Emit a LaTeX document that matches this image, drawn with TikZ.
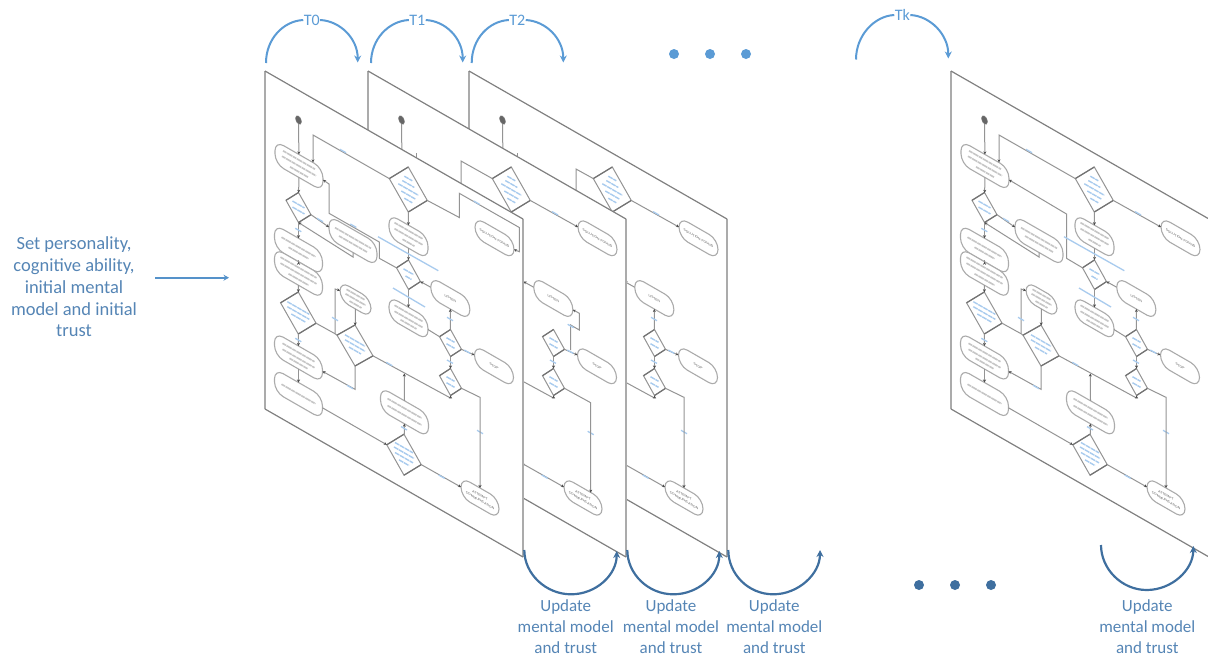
\documentclass[tikz,border=0pt]{standalone}
\usepackage{fontspec}
\setmainfont{Carlito}
\newfontfamily\tinyfont{Liberation Sans}
\usetikzlibrary{arrows.meta,shapes.misc,shapes.geometric}
\definecolor{topblue}{HTML}{5B9BD5}
\definecolor{botblue}{HTML}{3F6F9F}
\definecolor{capblue}{HTML}{5585B5}
\definecolor{edgeA}{HTML}{808080}
\definecolor{edgeB}{HTML}{ABABAB}
\definecolor{conn}{HTML}{949494}
\definecolor{inkG}{HTML}{C6C6C6}
\definecolor{inkB}{HTML}{A8CBEE}
\tikzset{
  iso/.style={yslant=-.575},
  pill/.style={iso,rectangle,rounded corners=10pt,draw=edgeB,line width=1.1pt,fill=white,inner sep=0,outer sep=0,text=black!65,align=center,font=\tinyfont\fontsize{3.3}{5.2}\selectfont},
  deci/.style={iso,diamond,draw=conn,line width=1pt,fill=white,inner sep=0,outer sep=0},
  cn/.style={draw=conn,line width=1pt},
  cna/.style={cn,-{Stealth[length=3pt,width=3pt,color=black!70]}},
  cns/.style={cn,{Stealth[length=3pt,width=3pt,color=black!70]}-},
  inkg/.style={draw=inkG,line width=1.6pt,dash pattern=on 4pt off .7pt on 6pt off .7pt},
  inkb/.style={draw=inkB,line width=1.3pt},
  inkbd/.style={draw=inkB,line width=1.4pt,dash pattern=on 5pt off .7pt},
  dedge/.style={draw=black!55,line width=1.2pt},
  toparc/.style={draw=topblue,line width=2pt},
  botarc/.style={draw=botblue,line width=2.2pt},
  arctip/.style={-{Stealth[length=7pt,width=7pt]}},
  captxt/.style={text=capblue,align=center,font=\fontsize{17}{21}\selectfont},
  leftcap/.style={text=capblue,align=center,font=\fontsize{18.5}{21.7}\selectfont},
  tlab/.style={text=topblue,font=\fontsize{16}{16}\selectfont,inner sep=.5pt,outer sep=0},
}
\newcommand{\tl}[5]{\draw[#5] ({#1-#3},{#2+#4-.575*#3}) -- ({#1+#3},{#2+#4+.575*#3});}
\newcommand{\lab}[2]{\draw[inkb] ({#1-3},{#2-1.7}) -- ({#1+3},{#2+1.7});}
\newcommand{\pillnode}[6]{\node[pill,minimum width=#4,minimum height=#5] (#1) at (#2,#3) {#6};}
\newcommand{\dianode}[5]{\node[deci,minimum width=#4,minimum height=#5] (#1) at (#2,#3) {};
  \draw[dedge] (#1.west) -- (#1.north) (#1.east) -- (#1.south);}
\newif\iffull
% #1 name prefix, #2 x offset, #3 variant: 0 front, 1 second, 2 third, 3 last
\newcommand{\flowpanel}[3]{%
\begin{scope}[shift={(#2,0)}]
  \fulltrue
  \ifnum#3=1\relax\fullfalse\fi
  \ifnum#3=2\relax\fullfalse\fi
  \fill[white] (265,71) -- (523,219) -- (523,557) -- (265,409) -- cycle;
  \draw[edgeB,line width=1.8pt] (265,71) -- (265,409) (523,219) -- (523,557);
  \draw[edgeA,line width=1.2pt] (265,71) -- (523,219) (265,409) -- (523,557);
  % nodes
  \node[iso,ellipse,fill=black!60,draw=black!50,minimum width=6pt,minimum height=8pt,inner sep=0,outer sep=0] (#1S) at (298.5,120) {};
  \pillnode{#1A}{299}{166}{48pt}{23pt}{}
  \pillnode{#1B}{298.5}{250}{48pt}{23.5pt}{}
  \pillnode{#1C}{298.5}{273.5}{48pt}{23.5pt}{}
  \pillnode{#1E}{298.5}{357.5}{48pt}{23pt}{}
  \pillnode{#1F}{298.5}{394}{48pt}{23pt}{}
  \pillnode{#1J}{355.5}{299.5}{31pt}{19pt}{}
  \pillnode{#1L}{450.3}{298.5}{39pt}{21pt}{LISTEN}
  \pillnode{#1T}{494}{366.3}{39pt}{20pt}{STOP}
  \pillnode{#1K}{494.5}{238.3}{39pt}{20pt}{SOLUTION FOUND}
  \pillnode{#1M}{480}{498}{38pt}{20pt}{ATTEMPT\\COMMUNICATION}
  \dianode{#1d1}{298.5}{207.5}{25pt}{30pt}
  \dianode{#1d2}{298.3}{313}{35.5pt}{42pt}
  \dianode{#1d3}{408.3}{189.5}{38pt}{45pt}
  \dianode{#1d4}{408.5}{274.7}{24pt}{29.5pt}
  \dianode{#1d5}{450.5}{343}{22pt}{27pt}
  \dianode{#1d6}{450.5}{382}{22pt}{27pt}
  \dianode{#1d7}{404}{454.7}{34.5pt}{41pt}
  \dianode{#1d8}{355}{345.5}{36pt}{41pt}
  % connectors
  \draw[cna] (#1S) -- (#1A);
  \draw[cna] (#1A) -- (#1d1);
  \draw[cna] (#1d1) -- (#1B);
  \draw[cna] (#1B) -- (#1C);
  \draw[cna] (#1C) -- (#1d2);
  \draw[cna] (#1d2) -- (#1E);
  \draw[cna] (#1E) -- (#1F);
  \draw[cna] (#1d5) -- (#1d6);
  \draw[cna] (#1J) -- (#1d8);
  \iffull
    \pillnode{#1G}{408.5}{236.7}{39pt}{23pt}{}
    \pillnode{#1H}{408.5}{318.3}{39pt}{22pt}{}
    \pillnode{#1I}{404.5}{412.3}{48pt}{23pt}{}
    \draw[cna] (#1d3) -- (#1G);
    \draw[cna] (#1G) -- (#1d4);
    \draw[cna] (#1d4) -- (#1H);
    \draw[cna] (#1d7) -- (#1I);
    \draw[cn] (#1H.east) -- (#1d5.west);
    \coordinate (#1i1) at (404.3,373.5);
    \draw[cna] (#1I.north) -- (#1i1);
  \fi
  \coordinate (#1at) at (313,162.4);
  \ifcase#3\relax
    \coordinate (#1a1) at (313,135);
    \draw[cna] (#1d3.west) -- (#1a1) -- (#1at);
  \or
    \coordinate (#1a1) at (358,161);
    \coordinate (#1a2) at (358,186);
    \coordinate (#1a3) at (313,153);
    \draw[cn] (#1d3.west) -- (#1a1) -- (#1a2);
    \draw[cna] (#1a3) -- (#1at);
  \or
    \coordinate (#1a1) at (372,169);
    \coordinate (#1a2) at (372,193);
    \coordinate (#1a3) at (313,153);
    \draw[cn] (#1d3.west) -- (#1a1) -- (#1a2);
    \draw[cna] (#1a3) -- (#1at);
  \else
    \coordinate (#1a1) at (313,135);
    \draw[cna] (#1d3.west) -- (#1a1) -- (#1at);
  \fi
  % solution-found connector
  \ifnum#3=0\relax
    \coordinate (#1k1) at (459.3,217.5);
    \coordinate (#1k2) at (459.3,193.3);
    \coordinate (#1k3) at (519.3,227.5);
    \coordinate (#1k4) at (519.3,251.7);
    \draw[cna] (#1d3.east) -- (#1k1) -- (#1k2) -- (#1k3) -- (#1k4) -- (#1K.east);
  \else
    \draw[cna] (#1d3.east) -- (#1K.west);
  \fi
  % return to the first pill
  \ifnum#3=0\relax
    \coordinate (#1r1) at (379.3,258.3);
    \coordinate (#1r2) at (379.3,242);
    \coordinate (#1r3) at (329,213.3);
    \coordinate (#1r4) at (329,184);
    \draw[cna] (#1d4.west) -- (#1r1) -- (#1r2) -- (#1r3) -- (#1r4) -- (#1A.east);
  \else
    \coordinate (#1r1) at (380.5,258.3);
    \coordinate (#1r2) at (380.5,214);
    \draw[cna] (#1d4.west) -- (#1r1) -- (#1r2) -- (#1A.east);
  \fi
  \pillnode{#1R}{353}{241}{48pt}{23pt}{}
  \draw[cna] (#1d1.east) -- (#1R.west);
  \coordinate (#1b1) at (353,257);
  \draw[cna] (#1R.south) -- (#1b1) -- (#1d1.south);
  \draw[cns] (#1d4.east) -- (#1L.west);
  \draw[cna] (#1d5.east) -- (#1T.west);
  \ifnum#3=1\relax
    \coordinate (#1l1) at (476.3,313.3);
    \coordinate (#1l2) at (476.3,330);
    \coordinate (#1l3) at (467.7,325);
    \coordinate (#1l4) at (467.7,350);
    \draw[cns] (#1L.east) -- (#1l1) -- (#1l2) -- (#1l3) -- (#1l4);
    \coordinate (#1m1) at (487.7,402.7);
    \coordinate (#1m2) at (487.7,492.6);
    \lab{467.7}{326}
    \lab{487.7}{433}
  \else
    \draw[cna] (#1d5) -- (#1L);
    \coordinate (#1m1) at (480,397.3);
    \coordinate (#1m2) at (480,488);
    \lab{450}{319}
    \lab{480}{432}
  \fi
  \draw[cna] (#1d6.east) -- (#1m1) -- (#1m2);
  \draw[cna] (#1d7.east) -- (#1M.west);
  \draw[cna] (#1F.east) -- (#1d7.west);
  \coordinate (#1n1) at (335,333.7);
  \coordinate (#1n2) at (335,289);
  \draw[cn] (#1d2.east) -- (#1n1) -- (#1d8.west);
  \draw[cna] (#1n1) -- (#1n2) -- (#1J.west);
  \coordinate (#1e1) at (355,389.3);
  \draw[cna] (#1d8.south) -- (#1e1) -- (#1E.east);
  \coordinate (#1g1) at (450.5,398);
  \draw[cna] (#1d8.east) -- (#1g1) -- (#1d6.south);
  % illegible small print, kept as strokes
  \foreach \cx/\cy/\hw/\off in {299/166/16/-6,299/166/17/0,299/166/9/6,298.5/250/17/-3,298.5/250/10/3,298.5/273.5/18/-6,298.5/273.5/18/0,298.5/273.5/10/6,298.5/357.5/16/-5,298.5/357.5/16/1,298.5/357.5/9/6,298.5/394/17/0,355.5/299.5/9/-5,355.5/299.5/10/0,355.5/299.5/6/5,353/241/18/-3,353/241/14/3}
    {\tl{\cx}{\cy}{\hw}{\off}{inkg}}
  \foreach \cx/\cy/\hw/\off in {298.5/207.5/6/-3,298.5/207.5/6/3,298.3/313/11/-5,298.3/313/11/0,298.3/313/7/5,408.3/189.5/4/-11,408.3/189.5/6/-5.5,408.3/189.5/10/0,408.3/189.5/7/5.5,408.3/189.5/4/11,408.5/274.7/5/-3,408.5/274.7/3/3,450.5/343/4/-3,450.5/343/4/3,450.5/382/4/-3,450.5/382/4/3,404/454.7/9/-7,404/454.7/10/-2,404/454.7/9/3,404/454.7/5/8,355/345.5/10/-5,355/345.5/10/0,355/345.5/6/5}
    {\tl{\cx}{\cy}{\hw}{\off}{inkbd}}
  \foreach \lx/\ly in {320/220,298.3/230,298.3/340,335/319,389.3/364,350/387,467.3/351.7,450/361.7,441.7/476.7}
    {\lab{\lx}{\ly}}
  \iffull
    \foreach \cx/\cy/\hw/\off in {408.5/236.7/14/-6,408.5/236.7/14/0,408.5/236.7/6/6,408.5/318.3/14/-5,408.5/318.3/14/1,408.5/318.3/8/6,404.5/412.3/17/-4,404.5/412.3/17/3}
      {\tl{\cx}{\cy}{\hw}{\off}{inkg}}
    \lab{343}{151}
    \lab{404}{428.3}
    \draw[inkb] (378,236.7) -- (438.3,270.7);
    \draw[inkb] (393,288) -- (425,307);
  \fi
  \ifnum#3=0\relax\lab{353.3}{225.7}\lab{476.7}{202.7}\else\lab{452}{213.3}\fi
\end{scope}}
\begin{document}
\begin{tikzpicture}[x=1pt,y=-1pt]
\useasboundingbox (0,0) rectangle (1208,657);
\flowpanel{k}{686}{3}
\flowpanel{c}{204}{2}
\flowpanel{b}{103}{1}
\flowpanel{a}{0}{0}
% left caption and arrow
\node[leftcap] (setup) at (74,287) {Set personality,\\cognitive ability,\\initial mental\\model and initial\\trust};
\coordinate (inL) at (155,277.7);
\coordinate (inR) at (229,277.7);
\draw[draw=topblue!80!botblue,line width=1.6pt,-{Stealth[length=5.5pt,width=6pt]}] (inL) -- (inR);
% top arcs
\node[tlab] (T0) at (311.7,20) {T0};
\node[tlab] (T1) at (417.3,20) {T1};
\node[tlab] (T2) at (517.3,20) {T2};
\node[tlab] (Tk) at (902.3,15) {Tk};
\coordinate (s0) at (266,63); \coordinate (e0) at (357.7,62.5);
\coordinate (s1) at (371,63); \coordinate (e1) at (462.7,62.5);
\coordinate (s2) at (471.7,63); \coordinate (e2) at (563.3,62.5);
\coordinate (sk) at (856,59.5); \coordinate (ek) at (948.3,58.5);
\foreach \i in {0,1,2}{
  \draw[toparc] (s\i) .. controls +(0,-24) and +(-20,1) .. (T\i.west);
  \draw[toparc,arctip] (T\i.east) .. controls +(20,1) and +(0,-24) .. (e\i);
}
\draw[toparc] (sk) .. controls +(0,-24) and +(-20,1) .. (Tk.west);
\draw[toparc,arctip] (Tk.east) .. controls +(20,1) and +(0,-24) .. (ek);
% dots
\node[circle,fill=topblue,minimum size=10pt,inner sep=0] (dt1) at (674,54) {};
\node[circle,fill=topblue,minimum size=10pt,inner sep=0] (dt2) at (710,54) {};
\node[circle,fill=topblue,minimum size=10pt,inner sep=0] (dt3) at (746,54) {};
\node[circle,fill=botblue,minimum size=10pt,inner sep=0] (db1) at (919,585) {};
\node[circle,fill=botblue,minimum size=10pt,inner sep=0] (db2) at (955,585) {};
\node[circle,fill=botblue,minimum size=10pt,inner sep=0] (db3) at (991,585) {};
% bottom arcs
\coordinate (u1s) at (524.3,550); \coordinate (u1m) at (571,594.3); \coordinate (u1e) at (616.7,551);
\coordinate (u2s) at (627.3,550); \coordinate (u2m) at (673.3,594.3); \coordinate (u2e) at (719.3,551);
\coordinate (u3s) at (728.3,550); \coordinate (u3m) at (773.3,594.3); \coordinate (u3e) at (820,550);
\coordinate (u4s) at (1101,545); \coordinate (u4m) at (1146.7,590); \coordinate (u4e) at (1193.3,546);
\foreach \i in {1,2,3,4}{
  \draw[botarc,arctip] (u\i s) .. controls +(0,24) and +(-25,0) .. (u\i m) .. controls +(25,0) and +(0,24) .. (u\i e);
}
\node[captxt] (up1) at (565.7,627) {Update\\mental model\\and trust};
\node[captxt] (up2) at (671,627) {Update\\mental model\\and trust};
\node[captxt] (up3) at (774.3,627) {Update\\mental model\\and trust};
\node[captxt] (up4) at (1147.3,627) {Update\\mental model\\and trust};
\end{tikzpicture}
\end{document}
